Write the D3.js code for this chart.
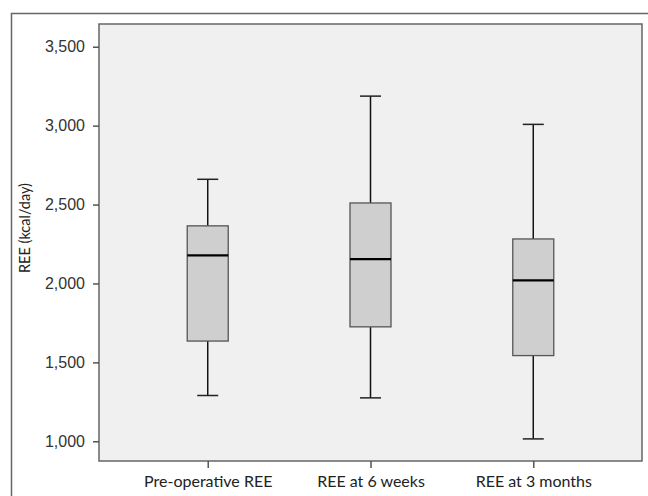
<!DOCTYPE html>
<html>
<head>
<meta charset="utf-8">
<script src="https://cdn.jsdelivr.net/npm/d3@7"></script>
<style>
  body { margin: 0; background: #fff; }
  svg { display: block; }
</style>
</head>
<body>
<div id="chart"></div>
<script>
// box plot of REE over three time points
var categories = ["Pre-operative REE", "REE at 6 weeks", "REE at 3 months"];
var mins    = [1290, 1275, 1015];
var q1s     = [1635, 1725, 1543];
var medians = [2178, 2154, 2020];
var q3s     = [2365, 2510, 2282];
var maxs    = [2660, 3187, 3008];
var yTicks  = [1000, 1500, 2000, 2500, 3000, 3500];

var width = 648, height = 496;
var margin = { top: 24, right: 6, bottom: 35, left: 99 };
var plotW = width - margin.left - margin.right,
    plotH = height - margin.top - margin.bottom;

var svg = d3.select("#chart").append("svg")
    .attr("width", width)
    .attr("height", height);

// outer frame, only left and top edges show
svg.append("path")
    .attr("d", "M11.5,496 V13.5 H648")
    .attr("fill", "none")
    .attr("stroke", "#666")
    .attr("stroke-width", 1.5);

var g = svg.append("g")
    .attr("transform", "translate(" + margin.left + "," + margin.top + ")");

var x = d3.scalePoint()
    .domain(categories)
    .range([0, plotW])
    .padding(0.668);

var y = d3.scaleLinear()
    .domain([875, 3644])
    .range([plotH, 0]);

g.append("rect")
    .attr("width", plotW)
    .attr("height", plotH)
    .attr("fill", "#f0f0f0")
    .attr("stroke", "#666")
    .attr("stroke-width", 1.5);

var data = categories.map(function (c, i) {
    return { name: c, min: mins[i], q1: q1s[i], med: medians[i], q3: q3s[i], max: maxs[i] };
});

var boxW = 41, capW = 21;

var box = g.append("g").selectAll(".box")
    .data(data)
    .enter().append("g")
    .attr("class", "box")
    .attr("transform", function (d) { return "translate(" + x(d.name) + ",0)"; });

// whiskers
box.append("line")
    .attr("y1", function (d) { return y(d.max); })
    .attr("y2", function (d) { return y(d.q3); })
    .attr("stroke", "#111").attr("stroke-width", 1.5);
box.append("line")
    .attr("y1", function (d) { return y(d.q1); })
    .attr("y2", function (d) { return y(d.min); })
    .attr("stroke", "#111").attr("stroke-width", 1.5);
box.append("line")
    .attr("x1", -capW / 2).attr("x2", capW / 2)
    .attr("y1", function (d) { return y(d.max); })
    .attr("y2", function (d) { return y(d.max); })
    .attr("stroke", "#222").attr("stroke-width", 1.5);
box.append("line")
    .attr("x1", -capW / 2).attr("x2", capW / 2)
    .attr("y1", function (d) { return y(d.min); })
    .attr("y2", function (d) { return y(d.min); })
    .attr("stroke", "#222").attr("stroke-width", 1.5);

// the box itself
box.append("rect")
    .attr("x", -boxW / 2)
    .attr("width", boxW)
    .attr("y", function (d) { return y(d.q3); })
    .attr("height", function (d) { return y(d.q1) - y(d.q3); })
    .attr("fill", "#cfcfcf")
    .attr("stroke", "#555")
    .attr("stroke-width", 1.3);

// median
box.append("line")
    .attr("x1", -boxW / 2).attr("x2", boxW / 2)
    .attr("y1", function (d) { return y(d.med); })
    .attr("y2", function (d) { return y(d.med); })
    .attr("stroke", "#000").attr("stroke-width", 2.2);

// y axis
var yAxis = g.append("g")
    .call(d3.axisLeft(y).tickValues(yTicks).tickSize(6).tickPadding(8)
        .tickFormat(d3.format(",")));
yAxis.select(".domain").remove();
yAxis.selectAll("line").attr("stroke", "#555").attr("stroke-width", 1.5);
yAxis.selectAll("text")
    .attr("fill", "#333")
    .style("font-family", "'Liberation Sans', Arial, sans-serif")
    .style("font-size", "16px");

// x axis
var xAxis = g.append("g")
    .attr("transform", "translate(0," + plotH + ")")
    .call(d3.axisBottom(x).tickSize(7).tickPadding(8));
xAxis.select(".domain").remove();
xAxis.selectAll("line").attr("stroke", "#555").attr("stroke-width", 1.5);
xAxis.selectAll("text")
    .attr("fill", "#222")
    .style("font-family", "Lato, 'Open Sans', sans-serif")
    .style("font-size", "16px");

// y axis title
svg.append("text")
    .attr("transform", "translate(29.5,228) rotate(-90)")
    .attr("text-anchor", "middle")
    .attr("fill", "#222")
    .style("font-family", "Lato, 'Open Sans', sans-serif")
    .style("font-size", "14.5px")
    .text("REE (kcal/day)");
</script>
</body>
</html>
